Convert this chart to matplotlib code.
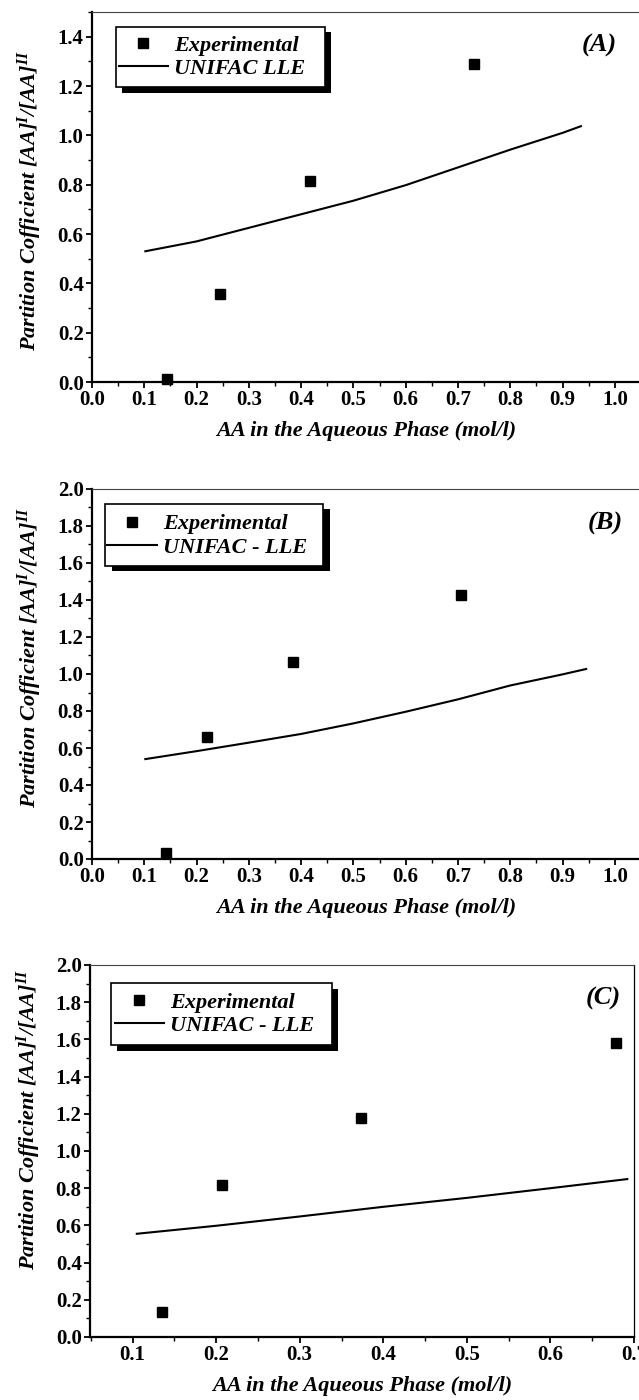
import matplotlib
matplotlib.use("Agg")
import matplotlib.pyplot as plt
from matplotlib.patches import Rectangle
from matplotlib.ticker import MultipleLocator, FormatStrFormatter
from matplotlib.transforms import Affine2D

W, H = 639, 1400

# ---- data -------------------------------------------------------------
# Panel (A)
a_exp_x = [0.143, 0.245, 0.416, 0.731]
a_exp_y = [0.013, 0.357, 0.815, 1.290]
a_uni_x = [0.102, 0.2, 0.3, 0.4, 0.5, 0.6, 0.7, 0.8, 0.9, 0.935]
a_uni_y = [0.530, 0.570, 0.625, 0.680, 0.735, 0.798, 0.870, 0.942, 1.010, 1.037]

# Panel (B)
b_exp_x = [0.141, 0.219, 0.384, 0.705]
b_exp_y = [0.035, 0.662, 1.063, 1.428]
b_uni_x = [0.102, 0.2, 0.3, 0.4, 0.5, 0.6, 0.7, 0.8, 0.9, 0.945]
b_uni_y = [0.540, 0.583, 0.629, 0.676, 0.733, 0.796, 0.863, 0.938, 0.998, 1.027]

# Panel (C)
c_exp_x = [0.135, 0.207, 0.373, 0.679]
c_exp_y = [0.132, 0.818, 1.175, 1.579]
c_uni_x = [0.105, 0.2, 0.3, 0.4, 0.5, 0.6, 0.692]
c_uni_y = [0.555, 0.598, 0.648, 0.700, 0.748, 0.800, 0.849]

panel_tags = ["(A)", "(B)", "(C)"]
exp_label = "Experimental"
uni_labels = ["UNIFAC LLE", "UNIFAC - LLE", "UNIFAC - LLE"]
x_label = "AA in the Aqueous Phase (mol/l)"
y_label = r"Partition Cofficient [AA]$^{I}$/[AA]$^{II}$"

# ---- style ------------------------------------------------------------
plt.rcParams["font.family"] = ["Liberation Serif", "DejaVu Serif"]
plt.rcParams["font.weight"] = "bold"
plt.rcParams["mathtext.fontset"] = "custom"
plt.rcParams["mathtext.it"] = "Liberation Serif:bold:italic"
plt.rcParams["mathtext.rm"] = "Liberation Serif:bold:italic"

fig = plt.figure(figsize=(W / 100, H / 100), dpi=100)
# pixel coordinates measured from the top-left corner of the figure
PX = Affine2D().scale(1 / W, -1 / H).translate(0, 1) + fig.transFigure


def rect(left, top, right, bottom):
    return [left / W, 1 - bottom / H, (right - left) / W, (bottom - top) / H]


panels = [
    dict(rect=rect(92, 12, 641, 382), xlim=(0, 1.05), ylim=(0, 1.5),
         xmaj=0.1, ymaj=0.2, xmin=0.05, ymin=0.1,
         ex=a_exp_x, ey=a_exp_y, ux=a_uni_x, uy=a_uni_y,
         box=(116, 26.5, 325, 87.3), shadow=(6, 5.5),
         handle=(118.5, 167.5), rows=(44.3, 70.0), tag=(599, 45),
         ylab_y=0.49, right=False),
    dict(rect=rect(92, 489, 641, 859), xlim=(0, 1.05), ylim=(0, 2.0),
         xmaj=0.1, ymaj=0.2, xmin=0.05, ymin=0.1,
         ex=b_exp_x, ey=b_exp_y, ux=b_uni_x, uy=b_uni_y,
         box=(105, 504, 323, 566), shadow=(7, 5),
         handle=(107, 156.5), rows=(523.3, 548.3), tag=(605, 523),
         ylab_y=0.545, right=False),
    dict(rect=rect(90, 965, 634, 1337), xlim=(0.049, 0.7), ylim=(0, 2.0),
         xmaj=0.1, ymaj=0.2, xmin=0.05, ymin=0.1,
         ex=c_exp_x, ey=c_exp_y, ux=c_uni_x, uy=c_uni_y,
         box=(111, 983, 332, 1045), shadow=(6, 6),
         handle=(114.6, 163.7), rows=(1001.0, 1027.0), tag=(603, 998),
         ylab_y=0.585, right=True),
]

LEG_FS = 16
EM = LEG_FS * 100 / 72.0

for i, p in enumerate(panels):
    ax = fig.add_axes(p["rect"])
    ax.set_xlim(*p["xlim"])
    ax.set_ylim(*p["ylim"])
    ax.xaxis.set_major_locator(MultipleLocator(p["xmaj"]))
    ax.xaxis.set_minor_locator(MultipleLocator(p["xmin"]))
    ax.yaxis.set_major_locator(MultipleLocator(p["ymaj"]))
    ax.yaxis.set_minor_locator(MultipleLocator(p["ymin"]))
    ax.xaxis.set_major_formatter(FormatStrFormatter("%.1f"))
    ax.yaxis.set_major_formatter(FormatStrFormatter("%.1f"))
    ax.tick_params(axis="both", which="major", direction="out", length=4.5,
                   width=1.3, labelsize=15, pad=1.5)
    ax.tick_params(axis="both", which="minor", direction="out", length=3,
                   width=1.0)
    ax.tick_params(top=False, right=False, which="both")
    for side in ("left", "bottom"):
        ax.spines[side].set_linewidth(1.6)
    ax.spines["top"].set_linewidth(0.8)
    ax.spines["top"].set_color("#444444")
    ax.spines["right"].set_linewidth(0.9)
    ax.spines["right"].set_visible(p["right"])

    ax.plot(p["ux"], p["uy"], color="black", lw=1.5, clip_on=False,
            label=uni_labels[i])
    ax.plot(p["ex"], p["ey"], ls="none", marker="s", ms=7.5, color="black",
            clip_on=False, label=exp_label, zorder=5)

    ax.set_xlabel(x_label, fontsize=16, fontstyle="italic",
                  fontweight="bold", labelpad=8)
    ax.set_ylabel(y_label, fontsize=16, fontstyle="italic",
                  fontweight="bold", va="center")
    ax.yaxis.set_label_coords(-0.113, p["ylab_y"])

    # legend frame with a drop shadow
    bl, bt, br, bb = p["box"]
    sx, sy = p["shadow"]
    ax.add_artist(Rectangle((bl + sx, bt + sy), br - bl, bb - bt,
                            transform=PX, facecolor="black",
                            edgecolor="black", lw=0, zorder=8,
                            clip_on=False))
    ax.add_artist(Rectangle((bl, bt), br - bl, bb - bt, transform=PX,
                            facecolor="white", edgecolor="black", lw=1.2,
                            zorder=9, clip_on=False))

    h0, h1 = p["handle"]
    r0, r1 = p["rows"]
    handles, labels = ax.get_legend_handles_labels()
    leg = ax.legend(handles[::-1], labels[::-1], loc="center left",
                    bbox_to_anchor=(h0 / W, 1 - (r0 + r1) / 2 / H),
                    bbox_transform=fig.transFigure, frameon=False,
                    borderpad=0, borderaxespad=0, numpoints=1,
                    handlelength=(h1 - h0) / EM, handletextpad=0.3,
                    labelspacing=0.12,
                    prop=dict(family="Liberation Serif", size=LEG_FS,
                              style="italic", weight="bold"))
    leg.set_zorder(10)

    tx, ty = p["tag"]
    ax.text(tx, ty, panel_tags[i], transform=PX, ha="center", va="center",
            fontsize=19, fontstyle="italic", fontweight="bold")

fig.savefig("out.png", dpi=100)
